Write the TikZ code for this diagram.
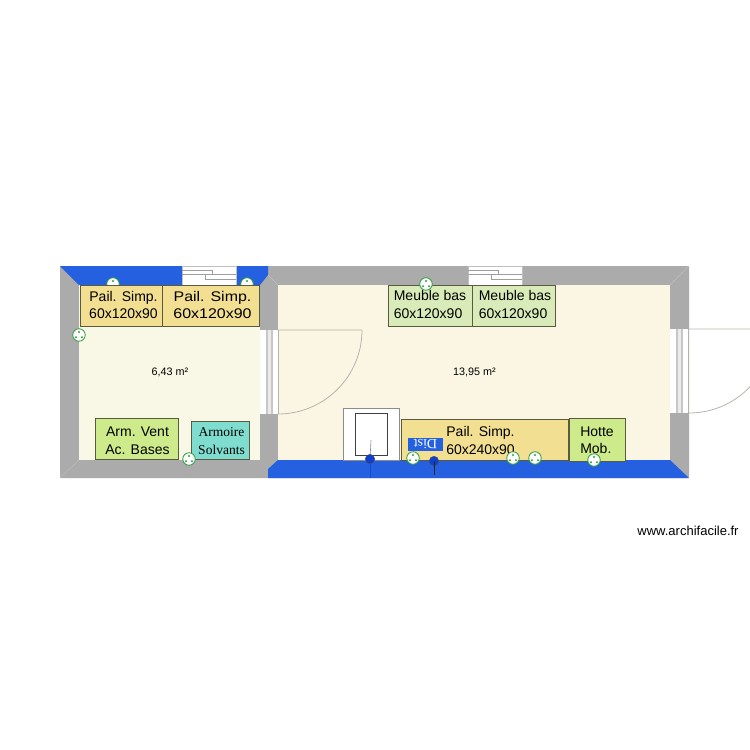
\documentclass[tikz,border=0pt]{standalone}
\usepackage{fontspec}
\setmainfont{Liberation Sans}
\newfontfamily\serifcab{Liberation Serif}
\newfontfamily\widecab[FakeStretch=1.14]{Liberation Sans}
\definecolor{wallgrey}{HTML}{ABABAB}
\definecolor{wallblue}{HTML}{2460E0}
\definecolor{roomleft}{HTML}{F9F8E6}
\definecolor{roomright}{HTML}{FBF6E4}
\definecolor{pailcol}{HTML}{F2DF92}
\definecolor{ventcol}{HTML}{CDEB8B}
\definecolor{basecol}{HTML}{D9EBB8}
\definecolor{solvcol}{HTML}{7FDDD0}
\definecolor{plugcol}{HTML}{2E9E3E}
\definecolor{frameline}{HTML}{5A5A40}
\definecolor{doorline}{HTML}{B4B4AC}
\definecolor{pipeblue}{HTML}{0F3FD0}
\tikzset{
  meuble/.style={draw=frameline,line width=.9pt,inner sep=0pt},
  libelle/.style={align=center,inner sep=0pt,font=\fontsize{14}{17.5}\selectfont},
  surface/.style={inner sep=0pt,font=\fontsize{10.8}{12}\selectfont},
  vanne/.style={circle,draw=black!70,fill=pipeblue,minimum size=9.5pt,inner sep=0pt,line width=.4pt},
  prise/.style={circle,draw=plugcol,fill=white,minimum size=12.5pt,inner sep=0pt,line width=.8pt}
}
\newcommand{\plugdots}[1]{% three dots of a socket
   \fill[plugcol] (#1) ++(0,-3) circle (1.1) (#1) ++(-3,2.2) circle (1.1) (#1) ++(3,2.2) circle (1.1);}
\begin{document}
\begin{tikzpicture}[x=1pt,y=-1pt]
   \useasboundingbox (0,0) rectangle (750,750);
   % walls
   \fill[wallgrey,rounded corners=1pt] (60,266) rectangle (689,478);
   \fill[wallblue] (60,266) -- (268,266) -- (268,275) -- (260,285) -- (79,285) -- cycle;
   \fill[wallblue] (268,478) -- (268,469) -- (278,460) -- (670,460) -- (689,478) -- cycle;
   \fill[white] (182,266) rectangle (236,285);
   \fill[white] (468,266) rectangle (522,285);
   \fill[roomleft] (79,285) rectangle (260,460);
   \fill[roomright] (278,285) rectangle (670,460);
   % corners of the walls
   \draw[white!25!wallgrey,line width=.4pt] (60,478) -- (79,460);
   \draw[white!25!wallgrey,line width=.4pt] (689,266) -- (670,285);
   \draw[white!25!wallgrey,line width=.4pt] (268,275) -- (278,285);
   % windows
   \foreach \x in {182,468}{
   \draw[black!25,line width=.7pt] (\x,266.5) rectangle (\x+54,285);
   \draw[black!38,line width=.7pt] (\x,270.5) -- (\x+30,270.5) -- (\x+30,274.5);
   \draw[black!38,line width=.7pt] (\x,274.5) -- (\x+54,274.5);
   \draw[black!38,line width=.7pt] (\x+23,274.5) -- (\x+23,279) -- (\x+54,279);
   }
   % doors
   \foreach \x/\t in {260/330,670/329}{
   \fill[white] (\x,\t) rectangle (\x+18.5,\t+84);
   \fill[black!22] (\x+6,\t) rectangle (\x+8,\t+84);
   \fill[black!22] (\x+10.5,\t) rectangle (\x+12.5,\t+84);
   \fill[black!8] (\x+8,\t) rectangle (\x+10.5,\t+84);
   \draw[doorline,line width=.8pt] (\x+18.5,\t) -- (\x+18.5,\t+84);
   }
   \draw[doorline,line width=.8pt] (278,330) -- (362,330) arc (0:90:84);
   \begin{scope}
   \clip (689,300) rectangle (750,440);
   \draw[doorline,line width=.8pt] (689,329) -- (773,329) arc (0:90:84);
   \end{scope}
   % areas
   \node[surface] (aireLabo) at (170,372) {6,43 m²};
   \node[surface] (aireCuis) at (474.5,372) {13,95 m²};
   % sockets under the furniture
   \node[prise] (priseA) at (113,284) {}; \plugdots{priseA}
   \node[prise] (priseB) at (247,284) {}; \plugdots{priseB}
   % furniture
   \node[meuble,fill=pailcol,minimum width=82pt,minimum height=41pt] (pailA) at (121,305.5) {};
   \node[libelle] (pailAtxt) at (123.5,305) {Pail. Simp.\\60x120x90};
   \node[meuble,fill=pailcol,minimum width=97pt,minimum height=41pt] (pailB) at (210.5,305.5) {};
   \node[libelle,font=\widecab\fontsize{14}{17.5}\selectfont] (pailBtxt) at (212.5,305) {Pail. Simp.\\60x120x90};
   \node[meuble,fill=ventcol,minimum width=83pt,minimum height=41pt] (armVent) at (136.5,438.5) {};
   \node[libelle] (armVentTxt) at (137.5,440.5) {Arm. Vent\\Ac. Bases};
   \node[meuble,fill=solvcol,minimum width=58pt,minimum height=38pt] (armSolv) at (220.5,440) {};
   \node[libelle,font=\serifcab\fontsize{13.5}{17.5}\selectfont] (armSolvTxt) at (221.5,441) {Armoire\\Solvants};
   \node[meuble,fill=basecol,minimum width=84pt,minimum height=41pt] (basA) at (430,305.5) {};
   \node[libelle,align=left] (basAtxt) at (430,304.5) {Meuble bas\\60x120x90};
   \node[meuble,fill=basecol,minimum width=83pt,minimum height=41pt] (basB) at (514,305.5) {};
   \node[libelle,align=left] (basBtxt) at (515,304.5) {Meuble bas\\60x120x90};
   \node[draw=black!45,fill=white,line width=.6pt,minimum width=55.5pt,minimum height=52pt,inner sep=0pt] (frigo) at (371.3,434) {};
   \node[draw=black!75,line width=.8pt,minimum width=32pt,minimum height=42pt,inner sep=0pt] (frigoIn) at (371,434) {};
   \node[meuble,fill=pailcol,minimum width=167.5pt,minimum height=41pt] (pailC) at (484.75,439.5) {};
   \node[libelle] (pailCtxt) at (480.5,440.5) {Pail. Simp.\\60x240x90};
   \node[meuble,fill=ventcol,minimum width=56pt,minimum height=43pt] (hotte) at (597,439.5) {};
   \node[libelle,align=left] (hotteTxt) at (597,440) {Hotte\\Mob.};
   % label on the long bench
   \node[fill=wallblue,text=white,rotate=180,minimum width=35pt,minimum height=12.5pt,inner sep=0pt,font=\serifcab\fontsize{14}{14}\selectfont] (dist) at (425.5,444.5) {Dist};
   % pipes
   \coordinate (tigeA) at (371,440);
   \coordinate (tigeB) at (370,478);
   \coordinate (tigeC) at (434,475);
   \node[vanne] (vanneA) at (370,459) {};
   \node[vanne] (vanneB) at (434,461) {};
   \draw[black!45,line width=.6pt] (tigeA) -- (vanneA);
   \draw[pipeblue!70!wallblue,line width=.6pt] (vanneA) -- (tigeB);
   \draw[black!85,line width=.7pt] (vanneB.center) -- (tigeC);
   % sockets on top
   \node[prise] (priseC) at (79,335) {}; \plugdots{priseC}
   \node[prise] (priseD) at (189,459) {}; \plugdots{priseD}
   \node[prise] (priseE) at (426,284) {}; \plugdots{priseE}
   \node[prise] (priseF) at (413,458) {}; \plugdots{priseF}
   \node[prise] (priseG) at (513,458) {}; \plugdots{priseG}
   \node[prise] (priseH) at (535,458) {}; \plugdots{priseH}
   \node[prise] (priseI) at (594,460) {}; \plugdots{priseI}
   % site name
   \node[inner sep=0pt,font=\fontsize{13}{14}\selectfont] (siteName) at (688,531) {www.archifacile.fr};
\end{tikzpicture}
\end{document}
